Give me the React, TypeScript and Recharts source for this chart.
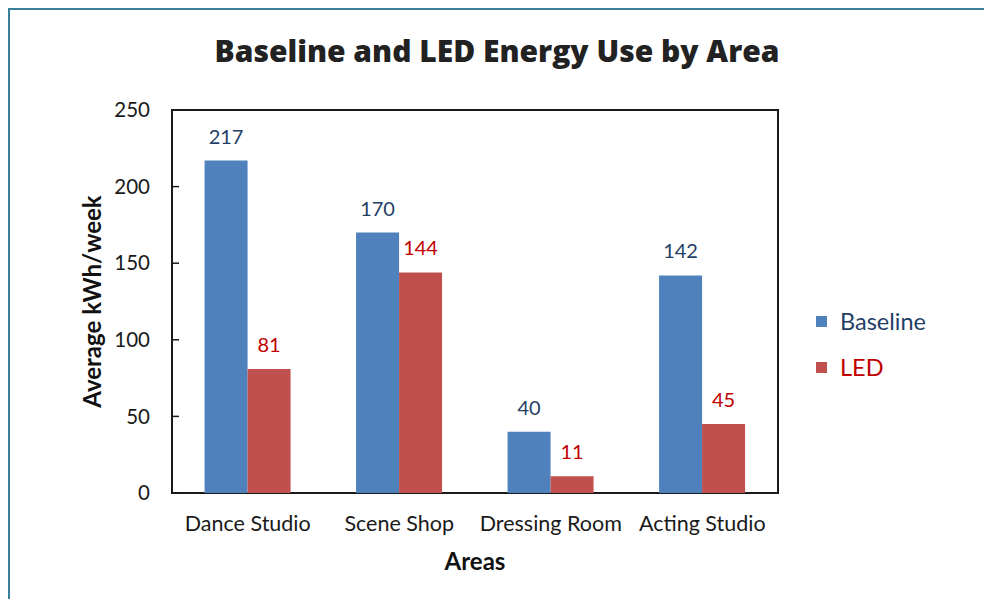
import {
  Bar,
  BarChart,
  LabelList,
  Legend,
  ReferenceArea,
  XAxis,
  YAxis,
} from 'recharts';

const categories = ['Dance Studio', 'Scene Shop', 'Dressing Room', 'Acting Studio'];
const baselineValues = [217, 170, 40, 142];
const ledValues = [81, 144, 11, 45];
const yTicks = [0, 50, 100, 150, 200, 250];

const data = categories.map((area, i) => ({
  area,
  baseline: baselineValues[i],
  led: ledValues[i],
}));

const BLUE = '#4F81BD';
const RED = '#C0504D';
const BLUE_TEXT = '#1F3F66';
const RED_TEXT = '#C00000';
const FONT = 'Lato, "Open Sans", sans-serif';

const YTick = (props: any) => {
  const { x, y, payload } = props;
  return (
    <g>
      <line x1={x + 22} x2={x + 29} y1={y} y2={y} stroke="#1a1a1a" strokeWidth={1.5} />
      <text x={x} y={y} dy="0.35em" textAnchor="end" fontSize={20.5} fill="#1a1a1a" fontFamily={FONT}>
        {payload.value}
      </text>
    </g>
  );
};

const XTick = (props: any) => {
  const { x, y, payload } = props;
  return (
    <text x={x} y={y} dy="0.8em" textAnchor="middle" fontSize={21.5} fill="#1a1a1a" fontFamily={FONT}>
      {payload.value}
    </text>
  );
};

const YLabel = (props: any) => {
  const { x, y, width, height } = props.viewBox;
  const cx = x + width - 81;
  const cy = y + height / 2;
  return (
    <text
      x={cx}
      y={cy}
      transform={`rotate(-90 ${cx} ${cy})`}
      textAnchor="middle"
      dominantBaseline="central"
      fontSize={24}
      fontWeight={700}
      fill="#111"
      fontFamily={FONT}
    >
      Average kWh/week
    </text>
  );
};

const XLabel = (props: any) => {
  const { x, y, width } = props.viewBox;
  return (
    <text
      x={x + width / 2}
      y={y + 67}
      textAnchor="middle"
      dominantBaseline="central"
      fontSize={24}
      fontWeight={700}
      fill="#111"
      fontFamily={FONT}
    >
      Areas
    </text>
  );
};

const renderLegend = (props: any) => {
  const { payload } = props;
  return (
    <div style={{ fontFamily: FONT, fontSize: 23.5 }}>
      {(payload || []).map((entry: any) => (
        <div
          key={entry.value}
          style={{ display: 'flex', alignItems: 'center', height: 46 }}
        >
          <span
            style={{ width: 11, height: 11, background: entry.color, marginRight: 13, display: 'inline-block' }}
          />
          <span style={{ color: entry.dataKey === 'led' ? RED_TEXT : BLUE_TEXT }}>{entry.value}</span>
        </div>
      ))}
    </div>
  );
};

export default function App() {
  return (
    <div
      style={{
        position: 'relative',
        width: 974,
        height: 600,
        borderTop: '2px solid #3a7f9a',
        borderLeft: '2px solid #3a7f9a',
        borderRight: '2px solid #3a7f9a',
        background: '#fff',
      }}
    >
      <div
        style={{
          position: 'absolute',
          top: 20,
          left: 0,
          width: 974,
          textAlign: 'center',
          fontFamily: '"Open Sans", sans-serif',
          fontWeight: 800,
          fontSize: 30,
          color: '#222',
        }}
      >
        Baseline and LED Energy Use by Area
      </div>
      <BarChart
        width={974}
        height={589}
        data={data}
        margin={{ top: 100, right: 206, bottom: 66, left: 2 }}
        barCategoryGap="21.5%"
        barGap={0}
      >
        <XAxis
          dataKey="area"
          axisLine={false}
          tickLine={false}
          tickSize={0}
          tickMargin={21}
          tick={<XTick />}
          interval={0}
          height={40}
          label={<XLabel />}
        />
        <YAxis
          domain={[0, 250]}
          ticks={yTicks}
          axisLine={false}
          tickLine={false}
          tickSize={0}
          tickMargin={22}
          tick={<YTick />}
          width={160}
          label={<YLabel />}
        />
        <Legend
          layout="vertical"
          align="center"
          verticalAlign="middle"
          content={renderLegend}
          wrapperStyle={{ left: 806, top: 288, width: 160 }}
        />
        <Bar dataKey="baseline" name="Baseline" fill={BLUE} isAnimationActive={false}>
          <LabelList
            dataKey="baseline"
            position="top"
            offset={17}
            fill={BLUE_TEXT}
            fontSize={20}
            fontFamily={FONT}
          />
        </Bar>
        <Bar dataKey="led" name="LED" fill={RED} isAnimationActive={false}>
          <LabelList
            dataKey="led"
            position="top"
            offset={17}
            fill={RED_TEXT}
            fontSize={20}
            fontFamily={FONT}
          />
        </Bar>
        <ReferenceArea y1={0} y2={250} fill="none" stroke="#1a1a1a" strokeWidth={2} ifOverflow="visible" />
      </BarChart>
    </div>
  );
}
